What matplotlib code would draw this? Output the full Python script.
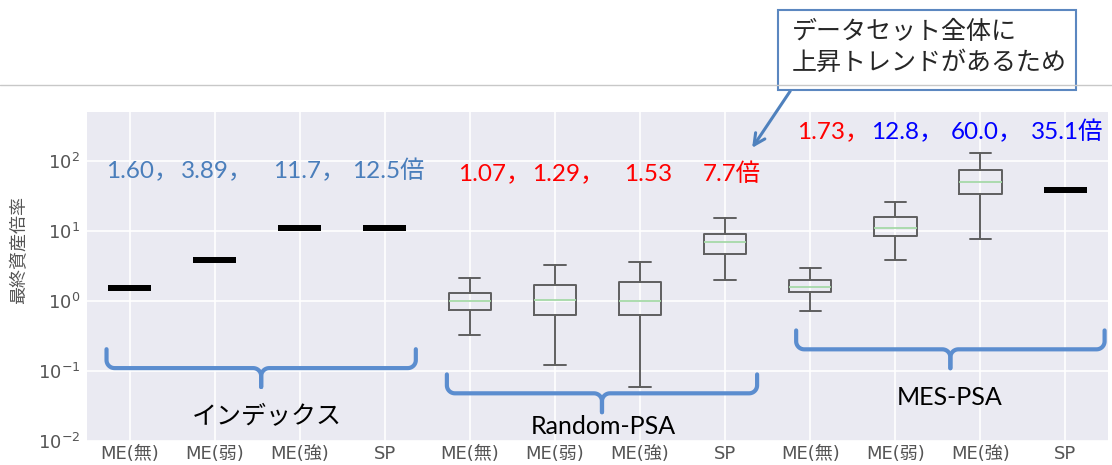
import numpy as np
import matplotlib
matplotlib.use('Agg')
import matplotlib.pyplot as plt
import seaborn as sns
from matplotlib.lines import Line2D
from matplotlib.patches import Rectangle

sns.set_style('darkgrid')
plt.rcParams['font.family'] = ['DejaVu Sans', 'Noto Sans CJK JP']

# カテゴリ (3グループ x 4)
categories = ['ME(無)', 'ME(弱)', 'ME(強)', 'SP'] * 3

# 箱ひげ図の統計量
whislo = [1.55, 3.8, 11.0, 11.0, 0.33, 0.122, 0.059, 2.0, 0.72, 3.86, 7.6, 38.0]
q1 = [1.55, 3.8, 11.0, 11.0, 0.75, 0.64, 0.63, 4.74, 1.35, 8.46, 33.5, 38.0]
med = [1.55, 3.8, 11.0, 11.0, 1.0, 1.04, 1.0, 6.86, 1.61, 11.2, 50.1, 38.0]
q3 = [1.55, 3.8, 11.0, 11.0, 1.32, 1.70, 1.85, 9.1, 2.0, 15.8, 74.5, 38.0]
whishi = [1.55, 3.8, 11.0, 11.0, 2.14, 3.23, 3.56, 15.4, 2.97, 26.3, 131.0, 38.0]
flat = [True, True, True, True, False, False, False, False, False, False, False, True]

# 倍率のテキスト
value_texts = ['1.60，', '3.89，', '11.7，', '12.5倍',
               '1.07，', '1.29，', '1.53', '7.7倍',
               '1.73，', '12.8，', '60.0，', '35.1倍']
value_colors = ['#4a7ebb'] * 4 + ['#ff0000'] * 4 + ['#ff0000', '#0000ff', '#0000ff', '#0000ff']
value_x = [0.73, 1.60, 2.69, 3.62, 4.86, 5.73, 6.81, 7.74, 8.84, 9.72, 10.65, 11.59]
value_y = [72] * 4 + [65] * 4 + [266] * 4

# グループ名と括弧
groups = ['インデックス', 'Random-PSA', 'MES-PSA']
group_x = [2.62, 6.57, 10.64]
group_y = [0.022, 0.016, 0.042]
brace_x0 = [0.73, 4.73, 8.835]
brace_x1 = [4.365, 8.376, 12.46]
brace_y = [0.11, 0.048, 0.204]

fig = plt.figure(figsize=(11.12, 4.65), dpi=100)
ax = fig.add_axes([0.0782, 0.0516, 0.9182, 0.7074])
ax.set_facecolor('#EAEAF2')

stats = []
for i in range(len(categories)):
    stats.append(dict(whislo=whislo[i], q1=q1[i], med=med[i], q3=q3[i],
                      whishi=whishi[i], fliers=[], label=categories[i]))
pos = np.arange(1, len(categories) + 1)

box_idx = [i for i in range(len(stats)) if not flat[i]]
flat_idx = [i for i in range(len(stats)) if flat[i]]

gray = '#5f5f5f'
ax.bxp([stats[i] for i in box_idx], positions=pos[box_idx], widths=0.5,
       showfliers=False,
       boxprops=dict(color=gray, linewidth=1.4),
       whiskerprops=dict(color=gray, linewidth=1.4),
       capprops=dict(color=gray, linewidth=1.4),
       medianprops=dict(color='#a6d9a8', linewidth=1.3))
flat_line = dict(color='black', linewidth=4.0, solid_capstyle='butt', solid_joinstyle='miter')
ax.bxp([stats[i] for i in flat_idx], positions=pos[flat_idx], widths=0.5,
       showfliers=False, showcaps=False,
       boxprops=flat_line, whiskerprops=flat_line, medianprops=flat_line)

ax.set_yscale('log')
ax.set_ylim(1e-2, 500)
ax.set_xlim(0.5, 12.5)
ax.set_xticks(pos)
ax.set_xticklabels(categories)
ax.set_yticks([1e-2, 1e-1, 1e0, 1e1, 1e2])
ax.yaxis.set_minor_locator(matplotlib.ticker.NullLocator())
ax.tick_params(axis='both', colors='#555555', labelsize=13, length=0)
ax.tick_params(axis='x', pad=3)
ax.tick_params(axis='y', pad=5)
ax.set_ylabel('最終資産倍率', color='#555555', fontsize=13)
ax.yaxis.set_label_coords(-0.058, 0.58)
ax.grid(True, color='white', linewidth=1.2)
for s in ax.spines.values():
    s.set_visible(False)

# 倍率のテキスト
for t, c, x, y in zip(value_texts, value_colors, value_x, value_y):
    ax.text(x, y, t, color=c, fontsize=17.5, ha='left', va='center',
            family=['Lato', 'Noto Sans CJK JP'])


# 波括弧
def draw_brace(ax, x0, x1, y_line, color):
    L = np.log10(y_line)
    depth = 0.27
    rx, ry = 0.094, 0.114
    xm = (x0 + x1) / 2
    t1 = np.linspace(np.pi, 1.5 * np.pi, 12)
    t2 = np.linspace(0.5 * np.pi, 0.0, 12)
    # 左半分
    xs = [x0] + list(x0 + rx + rx * np.cos(t1)) + list(xm - rx + rx * np.cos(t2)) + [xm]
    ys = [L + depth] + list(L + ry + ry * np.sin(t1)) + list(L - ry + ry * np.sin(t2)) + [L - depth]
    ax.plot(xs, 10 ** np.array(ys), color=color, lw=3, solid_capstyle='round', clip_on=False)
    # 右半分
    xs2 = [2 * xm - x for x in xs]
    ax.plot(xs2, 10 ** np.array(ys), color=color, lw=3, solid_capstyle='round', clip_on=False)


for g, gx, gy, b0, b1, by in zip(groups, group_x, group_y, brace_x0, brace_x1, brace_y):
    draw_brace(ax, b0, b1, by, '#5b8dcf')
    ax.text(gx, gy, g, color='black', fontsize=18, ha='center', va='center',
            family=['Lato', 'Noto Sans CJK JP'])

# スライドの区切り線
fig.add_artist(Line2D([0, 1], [0.817, 0.817], color='#c8c8c8', lw=1))

# 吹き出し
fig.add_artist(Rectangle((0.6996, 0.8065), 0.268, 0.172, transform=fig.transFigure,
                         facecolor='white', edgecolor='#5b87c0', lw=1.5))
fig.text(0.712, 0.931, 'データセット全体に', fontsize=18, va='center', ha='left',
         family=['Noto Sans CJK JP'])
fig.text(0.712, 0.8645, '上昇トレンドがあるため', fontsize=18, va='center', ha='left',
         family=['Noto Sans CJK JP'])
ax.annotate('', xy=(0.675, 0.677), xycoords='figure fraction',
            xytext=(0.712, 0.809), textcoords='figure fraction',
            arrowprops=dict(arrowstyle='->,head_length=0.8,head_width=0.4',
                            color='#4f81bd', lw=2.2))

fig.savefig('out.png', dpi=100)
